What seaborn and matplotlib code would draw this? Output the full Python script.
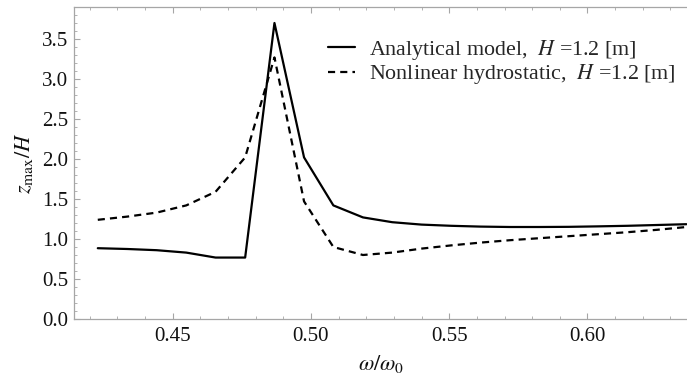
import numpy as np
import pandas as pd
import matplotlib
matplotlib.use("Agg")
import matplotlib.pyplot as plt
from matplotlib.ticker import MultipleLocator
import seaborn as sns

# ---- data ----
omega = [0.4229, 0.4336, 0.4442, 0.4549, 0.4655, 0.4762, 0.4868, 0.4975,
         0.5081, 0.5188, 0.5294, 0.5400, 0.5507, 0.5613, 0.5720, 0.5826,
         0.5932, 0.6039, 0.6145, 0.6252, 0.6358]
analytical = [0.885, 0.875, 0.86, 0.83, 0.768, 0.768, 3.70, 2.02,
              1.42, 1.27, 1.21, 1.18, 1.165, 1.155, 1.15, 1.15,
              1.152, 1.158, 1.165, 1.175, 1.185]
nonlinear = [1.24, 1.28, 1.33, 1.42, 1.59, 2.02, 3.27, 1.47,
             0.90, 0.80, 0.83, 0.88, 0.92, 0.955, 0.985, 1.01,
             1.035, 1.06, 1.085, 1.115, 1.15]
labels = ["Analytical model,  $H$ =1.2 [m]",
          "Nonlinear hydrostatic,  $H$ =1.2 [m]"]
xticks = [0.45, 0.50, 0.55, 0.60]
yticks = [0.0, 0.5, 1.0, 1.5, 2.0, 2.5, 3.0, 3.5]

sns.set_style("ticks")
plt.rcParams["font.family"] = ["Liberation Serif", "DejaVu Serif"]
plt.rcParams["mathtext.fontset"] = "stix"

fig = plt.figure(figsize=(6.87, 3.82), dpi=100)
ax = fig.add_axes([74 / 687, 1 - 319 / 382, 1 - 74 / 687 + 0.002, (319 - 7) / 382])

df = pd.DataFrame({"omega": omega * 2,
                   "z": analytical + nonlinear,
                   "series": [labels[0]] * len(omega) + [labels[1]] * len(omega)})

sns.lineplot(data=df, x="omega", y="z", style="series", color="black",
             dashes={labels[0]: "", labels[1]: (3.2, 2.3)},
             linewidth=1.6, ax=ax, sort=False)

ax.set_xlim(0.4143, 0.6365)
ax.set_ylim(0.0, 3.9)
ax.set_xticks(xticks)
ax.set_xticklabels([f"{t:.2f}" for t in xticks])
ax.set_yticks(yticks)
ax.set_yticklabels([f"{t:.1f}" for t in yticks])
ax.xaxis.set_minor_locator(MultipleLocator(0.01))
ax.yaxis.set_minor_locator(MultipleLocator(0.1))

frame = "#a6a6a6"
for s in ["left", "bottom", "top"]:
    ax.spines[s].set_color(frame)
    ax.spines[s].set_linewidth(0.9)
ax.spines["right"].set_visible(False)
ax.tick_params(axis="both", which="both", direction="in", color=frame,
               labelsize=15, labelcolor="#111111")
ax.tick_params(axis="x", which="both", top=True, pad=6)
ax.tick_params(axis="y", which="both", right=False, pad=4)
ax.tick_params(which="major", length=4, width=0.8)
ax.tick_params(which="minor", length=2, width=0.6)

ax.set_xlabel(r"$\omega/\omega_0$", fontsize=16, color="#111111", labelpad=5)
ax.set_ylabel(r"$z_{\mathrm{max}}/H$", fontsize=16, color="#111111", labelpad=5)

leg = ax.legend(loc="upper left", bbox_to_anchor=(328 / 687, 1 - 38 / 382),
                bbox_transform=fig.transFigure, frameon=False, fontsize=15.8,
                handlelength=1.25, handletextpad=0.6, labelspacing=0.02,
                borderpad=0, borderaxespad=0, title=None)
for line in leg.get_lines():
    line.set_linewidth(1.6)

fig.savefig("out.png", dpi=100)
